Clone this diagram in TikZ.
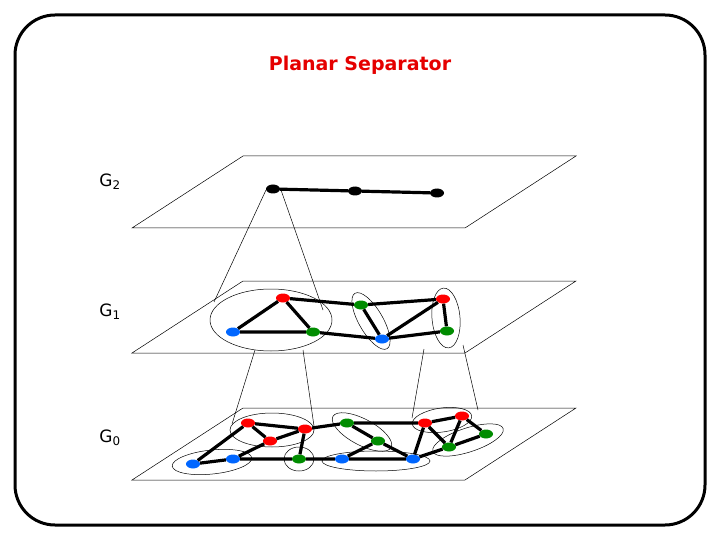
\documentclass[tikz,border=0pt]{standalone}
\usepackage{fontspec}
\setmainfont{DejaVu Sans}
\usetikzlibrary{shapes.geometric}
\begin{document}
\begin{tikzpicture}[x=1pt,y=-1pt,
 v/.style={ellipse,minimum width=14pt,minimum height=9pt,inner sep=0pt,draw=none,fill=#1},
 e/.style={line width=3.2pt},
 pl/.style={line width=0.5pt},
 grp/.style={line width=0.5pt},
 lab/.style={font=\fontsize{17}{19}\selectfont}]
\useasboundingbox (0,0) rectangle (720,540);
\draw[line width=3pt,rounded corners=40pt] (15,15) rectangle (705,525);
\node[text=red!90!black,font=\bfseries\fontsize{19}{21}\selectfont] (title) at (360,65) {Planar Separator};
% planes
\foreach \y in {0,125,252}{
 \draw[pl] (243,156+\y) -- (576,156+\y) -- (465,228+\y) -- (132,228+\y) -- cycle;}
\node[lab] (l2) at (110,182) {G\textsubscript{2}};
\node[lab] (l1) at (110,312) {G\textsubscript{1}};
\node[lab] (l0) at (110,438) {G\textsubscript{0}};
% G2
\node[v=black] (a1) at (273,189) {};
\node[v=black] (a2) at (355,191) {};
\node[v=black] (a3) at (437,193) {};
\draw[e] (a1)--(a2)--(a3);
% G1
\node[v=red] (r1) at (283,298) {};
\node[v=blue!60!cyan] (b1) at (233,332) {};
\node[v=green!55!black] (g1) at (313,332) {};
\node[v=green!55!black] (g2) at (361,305) {};
\node[v=blue!60!cyan] (b2) at (382,339) {};
\node[v=red] (r2) at (443,299) {};
\node[v=green!55!black] (g3) at (447,331) {};
\draw[grp] (271,320) ellipse[x radius=61,y radius=31];
\draw[grp,rotate around={-60:(371,321)}] (371,321) ellipse[x radius=32,y radius=12];
\draw[grp,rotate around={5:(446,318)}] (446,318) ellipse[x radius=14,y radius=30];
\draw[e] (r1)--(b1) (r1)--(g1) (b1)--(g1) (r1)--(g2) (g1)--(b2) (g2)--(b2) (g2)--(r2) (r2)--(b2) (b2)--(g3) (r2)--(g3);
% G0
\node[v=red] (s1) at (248,423) {};
\node[v=red] (s2) at (270,441) {};
\node[v=red] (s3) at (305,429) {};
\node[v=blue!60!cyan] (c1) at (193,464) {};
\node[v=blue!60!cyan] (c2) at (233,459) {};
\node[v=green!55!black] (h1) at (299,459) {};
\node[v=green!55!black] (h2) at (347,423) {};
\node[v=green!55!black] (h3) at (378,441) {};
\node[v=blue!60!cyan] (c3) at (342,459) {};
\node[v=blue!60!cyan] (c4) at (413,459) {};
\node[v=red] (s4) at (425,423) {};
\node[v=red] (s5) at (462,416) {};
\node[v=green!55!black] (h4) at (486,434) {};
\node[v=green!55!black] (h5) at (449,447) {};
\draw[grp] (272,430) ellipse[x radius=42,y radius=17];
\draw[grp,rotate around={6:(212,462)}] (212,462) ellipse[x radius=40,y radius=12];
\draw[grp] (299,459) ellipse[x radius=15,y radius=12];
\draw[grp,rotate around={-28:(362,432)}] (362,432) ellipse[x radius=33,y radius=13];
\draw[grp] (376,461) ellipse[x radius=54,y radius=10];
\draw[grp,rotate around={8:(442,420)}] (442,420) ellipse[x radius=30,y radius=12];
\draw[grp,rotate around={18:(468,440)}] (468,440) ellipse[x radius=37,y radius=12];
\draw[e] (s1)--(s3) (s1)--(s2) (s2)--(s3) (s1)--(c1) (s2)--(c2) (c1)--(c2) (s3)--(h1) (s3)--(h2) (h2)--(h3) (h2)--(s4) (s4)--(s5) (s4)--(c4) (s4)--(h5) (s5)--(h5) (s5)--(h4) (h5)--(h4) (h5)--(c4) (h3)--(c4) (h3)--(c3) (c2)--(h1) (h1)--(c3) (c3)--(c4);
% projection lines
\coordinate (p1) at (266,190); \coordinate (p2) at (281,190);
\coordinate (q1) at (214,302); \coordinate (q2) at (323,310);
\draw[pl] (p1)--(q1) (p2)--(q2);
\coordinate (u1) at (255,350); \coordinate (u2) at (303,350);
\coordinate (w1) at (232,424); \coordinate (w2) at (314,426);
\draw[pl] (u1)--(w1) (u2)--(w2);
\coordinate (u3) at (424,349); \coordinate (u4) at (463,345);
\coordinate (w3) at (412,418); \coordinate (w4) at (478,410);
\draw[pl] (u3)--(w3) (u4)--(w4);
\end{tikzpicture}
\end{document}
